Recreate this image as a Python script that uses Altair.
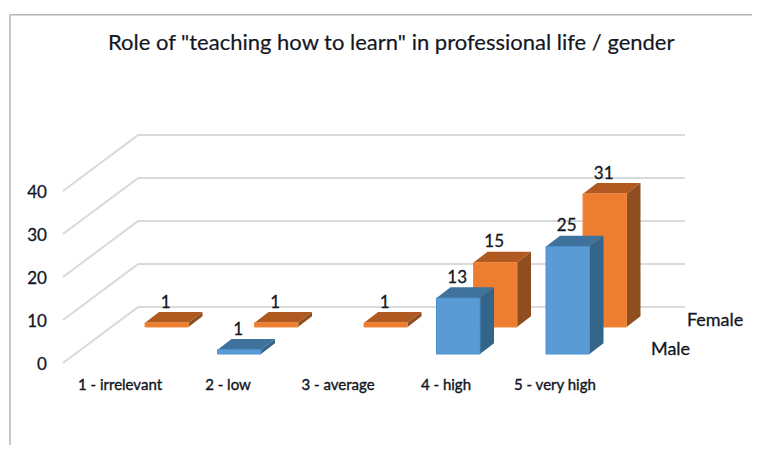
import altair as alt
import pandas as pd

TITLE = 'Role of "teaching how to learn" in professional life / gender'
CATEGORIES = ["1 - irrelevant", "2 - low", "3 - average", "4 - high", "5 - very high"]
CAT_POS = [1, 2, 3, 4, 5]
CAT_LABEL_POS = [0.911, 1.897, 2.902, 3.888, 4.883]
MALE = [None, 1, None, 13, 25]
FEMALE = [1, 1, 1, 15, 31]
TICKS = [0, 10, 20, 30, 40]
SERIES = ["Male", "Female"]

# scale units: x = category number, y = value; depth is a shear in both
X_DOMAIN = [-0.1119, 6.6827]
Y_DOMAIN = [-19.07, 82.56]
FLOOR_X0, FLOOR_X1 = 0.390, 6.071
WALL_DX, WALL_DY = 0.685, 13.0
BAR_W, BAR_DX, BAR_DY = 0.397, 0.128, 2.5
MALE_BASE, FEMALE_BASE = 2.09, 8.37
FEMALE_SHIFT = 0.338

x_s = alt.Scale(domain=X_DOMAIN, nice=False, zero=False)
y_s = alt.Scale(domain=Y_DOMAIN, nice=False, zero=False)
X = lambda f="x": alt.X(f"{f}:Q", scale=x_s, axis=None)
Y = lambda f="y": alt.Y(f"{f}:Q", scale=y_s, axis=None)


def faces(values, shift, base):
    front, side, top, labels = [], [], [], []
    for c, v in zip(CAT_POS, values):
        if v is None:
            continue
        l = c - BAR_W / 2 + shift
        r = l + BAR_W
        t = base + v
        front.append(dict(x=l, x2=r, y=base, y2=t))
        side += [dict(id=c, x=r, y=base, y2=t),
                 dict(id=c, x=r + BAR_DX, y=base + BAR_DY, y2=t + BAR_DY)]
        top += [dict(id=c, y=t, x=l, x2=r),
                dict(id=c, y=t + BAR_DY, x=l + BAR_DX, x2=r + BAR_DX)]
        labels.append(dict(x=(l + r) / 2, y=t + BAR_DY + 2.2, t=str(v)))
    return map(pd.DataFrame, (front, side, top, labels))


def bars(values, shift, base, c_front, c_side, c_top, c_edge):
    front, side, top, labels = faces(values, shift, base)
    lt = alt.Chart(top).mark_area(orient="horizontal", color=c_top).encode(
        y=Y(), x=X(), x2="x2:Q", detail="id:N")
    ls = alt.Chart(side).mark_area(orient="vertical", color=c_side).encode(
        x=X(), y=Y(), y2="y2:Q", detail="id:N")
    lf = alt.Chart(front).mark_rect(color=c_front, stroke=c_edge, strokeWidth=1).encode(
        x=X(), x2="x2:Q", y=Y(), y2="y2:Q")
    return [lt, ls, lf], labels


wall = pd.DataFrame(dict(x=[FLOOR_X0 + WALL_DX] * 5, x2=[FLOOR_X1] * 5,
                         y=[v + WALL_DY for v in TICKS], y2=[v + WALL_DY for v in TICKS]))
slant = pd.DataFrame(dict(x=[FLOOR_X0] * 5, x2=[FLOOR_X0 + WALL_DX] * 5,
                          y=TICKS, y2=[v + WALL_DY for v in TICKS]))
grid = [alt.Chart(d).mark_rule(color="#dadada", strokeWidth=2).encode(
    x=X(), x2="x2:Q", y=Y(), y2="y2:Q") for d in (wall, slant)]

frame = [
    alt.Chart(pd.DataFrame(dict(x=[X_DOMAIN[0] + 0.018], y=[Y_DOMAIN[0]], y2=[81.0])))
    .mark_rule(color="#b5b5b5", strokeWidth=1.5).encode(x=X(), y=Y(), y2="y2:Q"),
    alt.Chart(pd.DataFrame(dict(x=[X_DOMAIN[0] + 0.018], x2=[X_DOMAIN[1]], y=[81.0])))
    .mark_rule(color="#b5b5b5", strokeWidth=1.5).encode(x=X(), x2="x2:Q", y=Y()),
]

f_layers, f_labels = bars(FEMALE, FEMALE_SHIFT, FEMALE_BASE, "#ED7D31", "#8F4E20", "#B05A22", "#EF8A3E")
m_layers, m_labels = bars(MALE, 0, MALE_BASE, "#5B9BD5", "#33658A", "#3F729C", "#4A90CE")

INK = "#14171f"
FONT = "Lato"


def text(df, size, align="center", heavy=0.3):
    return alt.Chart(df).mark_text(font=FONT, fontSize=size, align=align, baseline="middle",
                                   color=INK, stroke=INK, strokeWidth=heavy).encode(
        x=X(), y=Y(), text="t:N")


value_labels = pd.concat([f_labels, m_labels])
value_labels["x"] = value_labels["x"] - 0.01
tick_labels = pd.DataFrame(dict(x=[0.244] * 5, y=[v - 0.5 for v in TICKS], t=[str(v) for v in TICKS]))
cat_labels = pd.DataFrame(dict(x=CAT_LABEL_POS, y=[-5.1] * 5, t=CATEGORIES))
ser_labels = pd.DataFrame(dict(x=[5.760, 6.088], y=[3.1, 9.8], t=SERIES))
title_label = pd.DataFrame(dict(x=[3.388], y=[74.4], t=[TITLE]))

chart = alt.layer(
    *frame, *grid, *f_layers, *m_layers,
    text(value_labels, 17),
    text(tick_labels, 17, "right"),
    text(cat_labels, 15, heavy=0.4),
    text(ser_labels, 18, "left"),
    text(title_label, 22, heavy=0.2),
).properties(width=744, height=437, padding=0, autosize=alt.AutoSizeParams(type="none"),
             background="white").configure_view(stroke=None)

chart.save("out.html", embed_options={"renderer": "svg", "actions": False})
